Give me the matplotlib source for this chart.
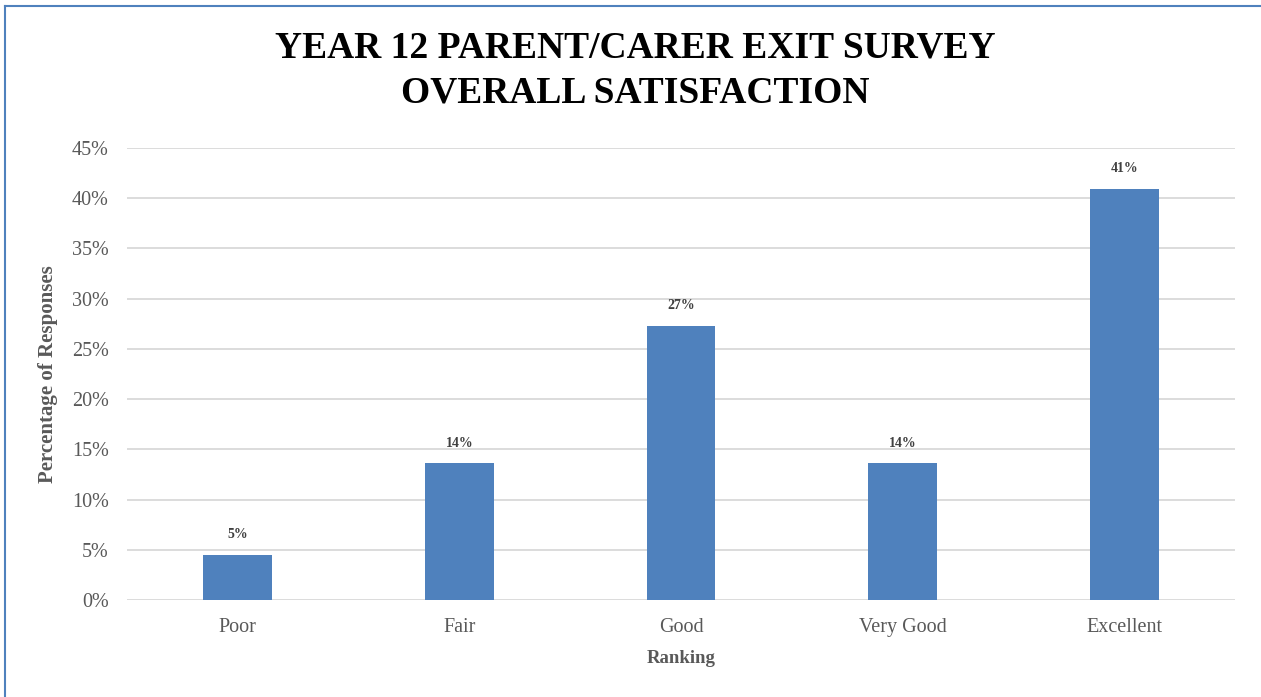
import matplotlib
matplotlib.use('Agg')
import matplotlib.pyplot as plt
from matplotlib.lines import Line2D
from matplotlib.ticker import PercentFormatter
import numpy as np

categories = ['Poor', 'Fair', 'Good', 'Very Good', 'Excellent']
values = [0.045, 0.136, 0.273, 0.136, 0.409]
labels = ['5%', '14%', '27%', '14%', '41%']

plt.rcParams['font.family'] = ['Liberation Serif', 'DejaVu Serif']

W, H = 1261, 697
fig = plt.figure(figsize=(W / 100, H / 100), dpi=100)
ax = fig.add_axes([127 / W, 1 - 600 / H, (1235 - 127) / W, (600 - 148) / H])

x = np.arange(len(categories))
ax.bar(x, values, width=0.31, color='#4f81bd', zorder=3)
for xi, v, lab in zip(x, values, labels):
    ax.annotate(lab, (xi, v), xytext=(0, 10), textcoords='offset points',
                ha='center', va='bottom', fontsize=10, fontweight='bold',
                color='#404040')

ax.set_xlim(-0.5, len(categories) - 0.5)
ax.set_ylim(0, 0.45)
ax.set_yticks(np.arange(0, 0.451, 0.05))
ax.yaxis.set_major_formatter(PercentFormatter(1.0, decimals=0))
ax.set_xticks(x)
ax.set_xticklabels(categories)
ax.grid(axis='y', color='#d9d9d9', linewidth=1.3, zorder=0)
for s in ax.spines.values():
    s.set_visible(False)
ax.tick_params(axis='both', length=0, labelsize=14.5, colors='#595959')
ax.tick_params(axis='y', pad=13)
ax.tick_params(axis='x', pad=13)

ax.set_xlabel('Ranking', fontsize=13.5, fontweight='bold', color='#595959', labelpad=9)
ax.set_ylabel('Percentage of Responses', fontsize=15, fontweight='bold', color='#595959', labelpad=10)

fig.text(0.5036, 1 - 48 / H, 'YEAR 12 PARENT/CARER EXIT SURVEY', ha='center', va='center',
         fontsize=27, fontweight='bold', color='black')
fig.text(0.5036, 1 - 93 / H, 'OVERALL SATISFACTION', ha='center', va='center',
         fontsize=27, fontweight='bold', color='black')

# frame border (only top and left visible in the crop)
fig.add_artist(Line2D([5 / W, 1], [1 - 6 / H, 1 - 6 / H], transform=fig.transFigure,
                      color='#4f81bd', linewidth=1.5))
fig.add_artist(Line2D([5 / W, 5 / W], [0, 1 - 6 / H], transform=fig.transFigure,
                      color='#4f81bd', linewidth=1.5))

fig.savefig('out.png', dpi=100)
